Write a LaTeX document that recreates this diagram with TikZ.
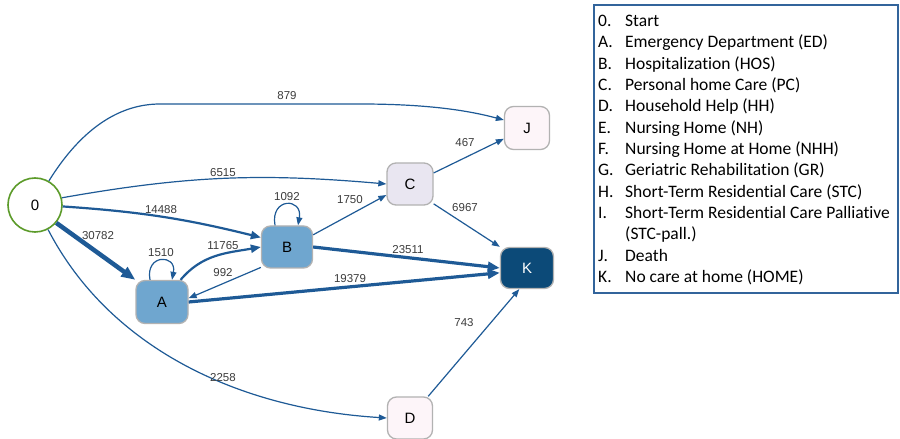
\documentclass[tikz,border=0pt]{standalone}
\usepackage{fontspec}
\setmainfont{Liberation Sans}
\newfontfamily\legfont[Ligatures=NoCommon]{Carlito}
\usetikzlibrary{arrows.meta,calc}

\definecolor{edgeblue}{RGB}{30,90,150}
\definecolor{lblgray}{RGB}{60,60,60}
\definecolor{midblue}{RGB}{111,166,207}
\definecolor{darkblue}{RGB}{12,74,120}
\definecolor{lavender}{RGB}{233,230,241}
\definecolor{blush}{RGB}{253,245,249}
\definecolor{startgreen}{RGB}{92,155,42}
\definecolor{nodeborder}{RGB}{178,178,178}
\definecolor{legendblue}{RGB}{50,100,155}

\begin{document}
\begin{tikzpicture}[x=1pt,y=1pt,
  state/.style={draw=nodeborder, line width=1.3pt, rounded corners=9pt,
    font=\fontsize{15}{18}\selectfont, inner sep=0pt},
  startstate/.style={circle, draw=startgreen, line width=1.6pt, fill=white,
    minimum size=54pt, font=\fontsize{15}{18}\selectfont, inner sep=0pt},
  e1/.style={draw=edgeblue, line width=1.2pt, -{Triangle[length=8pt,width=6pt]}},
  e2/.style={draw=edgeblue, line width=2.2pt, -{Triangle[length=10pt,width=8pt]}},
  e3/.style={draw=edgeblue, line width=3.2pt, -{Triangle[length=12pt,width=9.5pt]}},
  e4/.style={draw=edgeblue, line width=4.5pt, -{Triangle[length=14pt,width=11pt]}},
  lbl/.style={text=lblgray, font=\fontsize{11.5}{13}\selectfont, inner sep=0pt},
  legnum/.style={anchor=base west, inner sep=0pt, font=\legfont\fontsize{17.5}{21}\selectfont},
  legtxt/.style={anchor=base west, inner sep=0pt, font=\legfont\fontsize{17.5}{21}\selectfont},
]
\useasboundingbox (0,0) rectangle (900,439);
\fill[white] (0,0) rectangle (900,439);

% states
\node[startstate] (n0) at (35,234) {0};
\node[state, fill=midblue, minimum width=52pt, minimum height=43pt] (A) at (162,137) {A};
\node[state, fill=midblue, minimum width=51pt, minimum height=42pt] (B) at (287,192) {B};
\node[state, fill=lavender, minimum width=46pt, minimum height=42pt] (C) at (410,255) {C};
\node[state, fill=blush, minimum width=45pt, minimum height=43pt] (J) at (527,311) {J};
\node[state, fill=darkblue, text=white, minimum width=53pt, minimum height=41pt] (K) at (527,171) {K};
\node[state, fill=blush, minimum width=45pt, minimum height=42pt] (D) at (410,21) {D};

% transitions
\draw[e1] (n0.60) .. controls (78,305) and (115,335) .. (160,335)
  -- (360,335) .. controls (430,335) and (470,328) .. ([yshift=8pt]J.west);
\draw[e1] (n0.15) to[out=10,in=175] (C.west);
\draw[e2] (n0.-3) to[bend left=5] (B.160);
\draw[e4] (n0.-40) -- (A.north west);
\draw[e1] ([xshift=-12pt]A.north) .. controls +(-5,26) and +(5,26) .. ([xshift=10pt]A.north);
\draw[e2] (A.50) to[out=50,in=190] (B.west);
\draw[e1] (B.218) -- (A.8);
\draw[e1] ([xshift=-12pt]B.north) .. controls +(-5,28) and +(5,28) .. ([xshift=11pt]B.north);
\draw[e1] (B.25) -- (C.205);
\draw[e1] (C.25) -- (J.205);
\draw[e1] (C.-40) -- (K.north west);
\draw[e3] (B.east) -- (K.west);
\draw[e3] (A.east) -- (K.190);
\draw[e1] (n0.-62) .. controls (110,90) and (240,30) .. (D.west);
\draw[e1] (D.50) -- (K.-110);

% transition counts
\node[lbl] (l879) at (287,343) {879};
\node[lbl] (l6515) at (223,266) {6515};
\node[lbl] (l14488) at (161,229) {14488};
\node[lbl] (l30782) at (98,203) {30782};
\node[lbl] (l1510) at (161,186) {1510};
\node[lbl] (l11765) at (223,193) {11765};
\node[lbl] (l992) at (223,166) {992};
\node[lbl] (l1092) at (287,242) {1092};
\node[lbl] (l1750) at (350,239) {1750};
\node[lbl] (l467) at (465,296) {467};
\node[lbl] (l6967) at (465,231) {6967};
\node[lbl] (l23511) at (408,189) {23511};
\node[lbl] (l19379) at (350,160) {19379};
\node[lbl] (l2258) at (223,61) {2258};
\node[lbl] (l743) at (464,116) {743};

% legend
\node[draw=legendblue, line width=1.2pt, minimum width=304pt, minimum height=288pt, inner sep=0pt] (legend) at (746,290) {};
\node[legnum] (k0) at (598,412.3) {0.};  \node[legtxt] (t0) at (625,412.3) {Start};
\node[legnum] (kA) at (598,391.0) {A.};  \node[legtxt] (tA) at (625,391.0) {Emergency Department (ED)};
\node[legnum] (kB) at (598,369.6) {B.};  \node[legtxt] (tB) at (625,369.6) {Hospitalization (HOS)};
\node[legnum] (kC) at (598,348.3) {C.};  \node[legtxt] (tC) at (625,348.3) {Personal home Care (PC)};
\node[legnum] (kD) at (598,327.0) {D.};  \node[legtxt] (tD) at (625,327.0) {Household Help (HH)};
\node[legnum] (kE) at (598,305.6) {E.};  \node[legtxt] (tE) at (625,305.6) {Nursing Home (NH)};
\node[legnum] (kF) at (598,284.3) {F.};  \node[legtxt] (tF) at (625,284.3) {Nursing Home at Home (NHH)};
\node[legnum] (kG) at (598,263.0) {G.};  \node[legtxt] (tG) at (625,263.0) {Geriatric Rehabilitation (GR)};
\node[legnum] (kH) at (598,241.6) {H.};  \node[legtxt] (tH) at (625,241.6) {Short-Term Residential Care (STC)};
\node[legnum] (kI) at (598,220.3) {I.};  \node[legtxt] (tI) at (625,220.3) {Short-Term Residential Care Palliative};
\node[legtxt] (tI2) at (625,199.0) {(STC-pall.)};
\node[legnum] (kJ) at (598,177.6) {J.};  \node[legtxt] (tJ) at (625,177.6) {Death};
\node[legnum] (kK) at (598,156.3) {K.};  \node[legtxt] (tK) at (625,156.3) {No care at home (HOME)};
\end{tikzpicture}
\end{document}
